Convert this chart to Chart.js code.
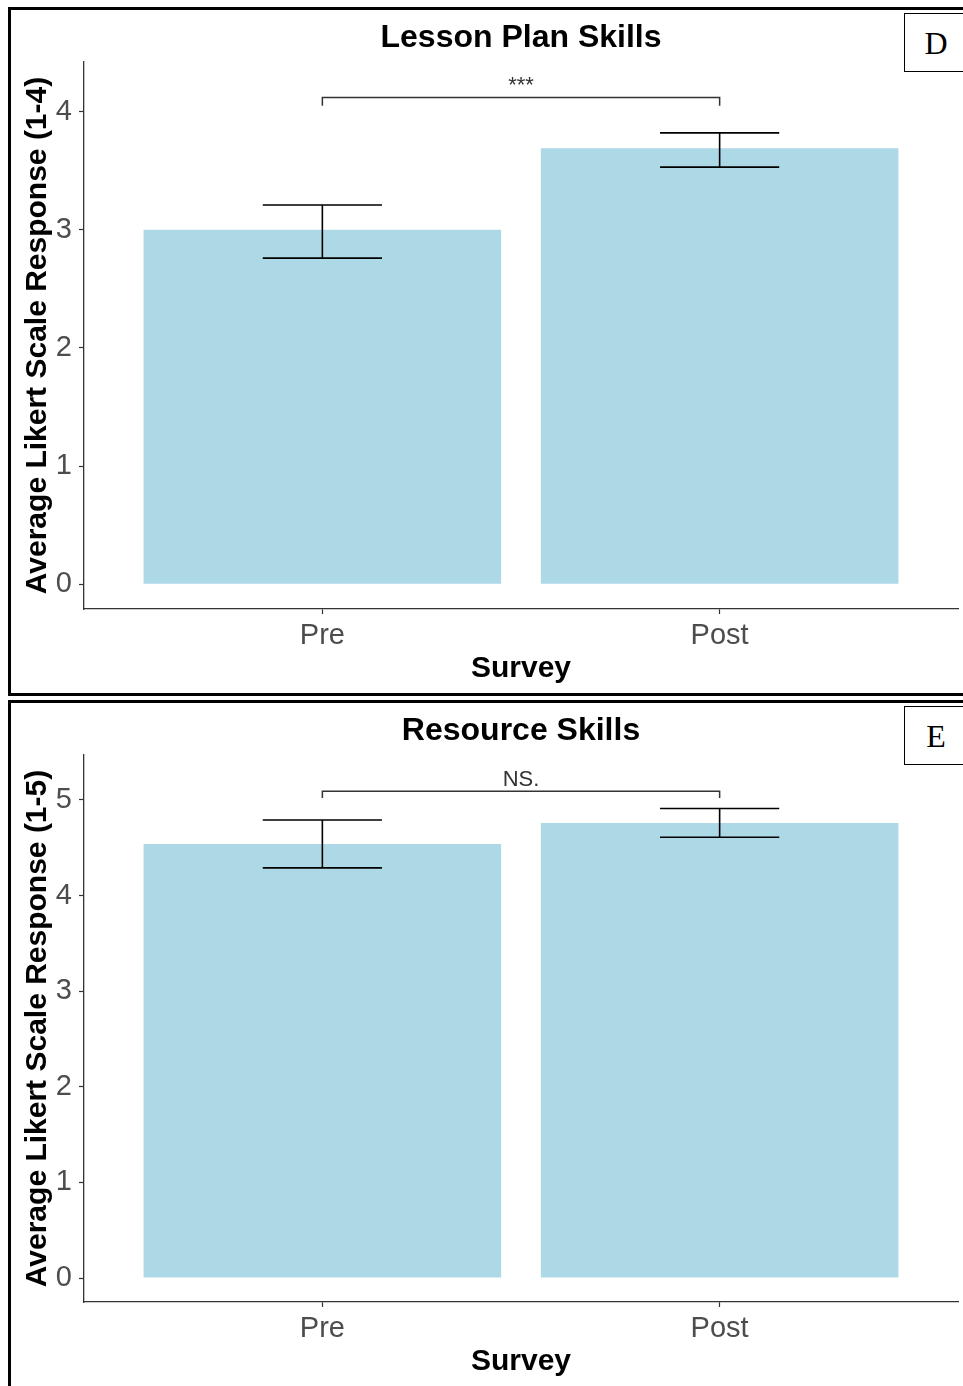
<!DOCTYPE html>
<html>
<head>
<meta charset="utf-8">
<script src="https://cdn.jsdelivr.net/npm/chart.js@4"></script>
<style>
  html, body { margin: 0; padding: 0; background: #fff; overflow: hidden; }
  body { width: 963px; height: 1386px; position: relative; }
  .panel { position: absolute; left: 8px; width: 960px; height: 683px; border: 3px solid #000; }
  .panel canvas { position: absolute; left: 0; top: 0; }
  .tag {
    position: absolute; left: 904px; width: 62px; height: 57px;
    border: 1.5px solid #000; background: #fff;
    font-family: "Liberation Serif", "Times New Roman", serif; font-size: 32px;
    line-height: 59px; text-align: center; color: #000;
  }
</style>
</head>
<body>
<div class="panel" style="top:7px"><canvas id="lesson-chart" width="952" height="683"></canvas></div>
<div class="panel" style="top:700px"><canvas id="resource-chart" width="952" height="683"></canvas></div>
<div class="tag" style="top:13px">D</div>
<div class="tag" style="top:706px">E</div>
<script>
// ── Data ─────────────────────────────────────────────────────

const categories = ["Pre", "Post"];

const lessonMeans = [3.0, 3.69];
const lessonLow = [2.76, 3.53];
const lessonHigh = [3.21, 3.82];
const lessonTicks = [0, 1, 2, 3, 4];
const lessonRange = [-0.21, 4.42];
const lessonBracket = [4.12, 4.05]; // bar line, tip ends
const lessonSig = "***";

const resourceMeans = [4.54, 4.76];
const resourceLow = [4.29, 4.61];
const resourceHigh = [4.79, 4.91];
const resourceTicks = [0, 1, 2, 3, 4, 5];
const resourceRange = [-0.25, 5.47];
const resourceBracket = [5.09, 5.02];
const resourceSig = "NS.";

const CAP_WIDTH = 0.3; // errorbar cap width in category units

Chart.defaults.font.family = "'Liberation Sans', Arial, sans-serif";

// ── Error bars + significance bracket ────────────────────────

function overlayPlugin(low, high, bracket, sig) {
  return {
    id: "overlay",
    afterDatasetsDraw(chart) {
      const { ctx } = chart;
      const x = chart.scales.x;
      const y = chart.scales.y;
      ctx.save();
      ctx.strokeStyle = "#000";
      ctx.lineWidth = 1.6;
      low.forEach((lo, i) => {
        const c = i + 1;
        const xl = x.getPixelForValue(c - CAP_WIDTH / 2);
        const xr = x.getPixelForValue(c + CAP_WIDTH / 2);
        const xc = x.getPixelForValue(c);
        const yl = y.getPixelForValue(lo);
        const yh = y.getPixelForValue(high[i]);
        ctx.beginPath();
        ctx.moveTo(xl, yh); ctx.lineTo(xr, yh);
        ctx.moveTo(xl, yl); ctx.lineTo(xr, yl);
        ctx.moveTo(xc, yh); ctx.lineTo(xc, yl);
        ctx.stroke();
      });

      const x1 = x.getPixelForValue(1);
      const x2 = x.getPixelForValue(categories.length);
      const yb = y.getPixelForValue(bracket[0]);
      const yt = y.getPixelForValue(bracket[1]);
      ctx.strokeStyle = "#333";
      ctx.lineWidth = 1.5;
      ctx.beginPath();
      ctx.moveTo(x1, yt); ctx.lineTo(x1, yb); ctx.lineTo(x2, yb); ctx.lineTo(x2, yt);
      ctx.stroke();

      ctx.fillStyle = "#333";
      ctx.font = "22px 'Liberation Sans', Arial, sans-serif";
      ctx.textAlign = "center";
      ctx.textBaseline = "alphabetic";
      ctx.fillText(sig, (x1 + x2) / 2, yb - 5);
      ctx.restore();
    },
  };
}

// ── Chart ────────────────────────────────────────────────────

function drawPanel(id, title, yTitle, means, low, high, ticks, range, bracket, sig) {
  const tickFont = { size: 29 };
  const titleFont = { size: 30, weight: "bold" };

  return new Chart(document.getElementById(id), {
    type: "bar",
    data: {
      datasets: [
        {
          data: means.map((v, i) => ({ x: i + 1, y: v })),
          backgroundColor: "#add8e6",
          borderWidth: 0,
          barPercentage: 0.9,
          categoryPercentage: 1,
        },
      ],
    },
    options: {
      responsive: false,
      animation: false,
      devicePixelRatio: 1,
      layout: { padding: { top: 0, left: 0, right: 5, bottom: 0 } },
      plugins: {
        legend: { display: false },
        tooltip: { enabled: false },
        title: {
          display: true,
          text: title,
          fullSize: false,
          color: "#000",
          font: { size: 32, weight: "bold" },
          padding: { top: 9, bottom: 4.6 },
        },
      },
      scales: {
        x: {
          type: "linear",
          min: 0.4,
          max: categories.length + 0.6,
          offset: false,
          afterBuildTicks: (s) => {
            s.ticks = categories.map((_, i) => ({ value: i + 1 }));
          },
          afterFit: (s) => { s.height = 84; },
          ticks: {
            callback: (v) => categories[v - 1],
            color: "#4d4d4d",
            font: tickFont,
            padding: 5,
            maxRotation: 0,
            autoSkip: false,
          },
          grid: {
            offset: false,
            drawOnChartArea: false,
            drawTicks: true,
            tickLength: 5,
            color: "#333",
            tickWidth: 1.2,
          },
          border: { display: true, color: "#333", width: 1.3 },
          title: {
            display: true,
            text: "Survey",
            color: "#000",
            font: titleFont,
            padding: { top: 0, bottom: 6 },
          },
        },
        y: {
          min: range[0],
          max: range[1],
          afterBuildTicks: (s) => {
            s.ticks = ticks.map((v) => ({ value: v }));
          },
          afterFit: (s) => { s.width = 73; },
          ticks: {
            color: "#4d4d4d",
            font: tickFont,
            padding: 7,
            autoSkip: false,
          },
          grid: {
            drawOnChartArea: false,
            drawTicks: true,
            tickLength: 5,
            color: "#333",
            tickWidth: 1.2,
          },
          border: { display: true, color: "#333", width: 1.3 },
          title: {
            display: true,
            text: yTitle,
            color: "#000",
            font: titleFont,
            padding: { top: 9, bottom: 0 },
          },
        },
      },
    },
    plugins: [overlayPlugin(low, high, bracket, sig)],
  });
}

drawPanel("lesson-chart", "Lesson Plan Skills", "Average Likert Scale Response (1-4)",
  lessonMeans, lessonLow, lessonHigh, lessonTicks, lessonRange, lessonBracket, lessonSig);

drawPanel("resource-chart", "Resource Skills", "Average Likert Scale Response (1-5)",
  resourceMeans, resourceLow, resourceHigh, resourceTicks, resourceRange, resourceBracket, resourceSig);
</script>
</body>
</html>
